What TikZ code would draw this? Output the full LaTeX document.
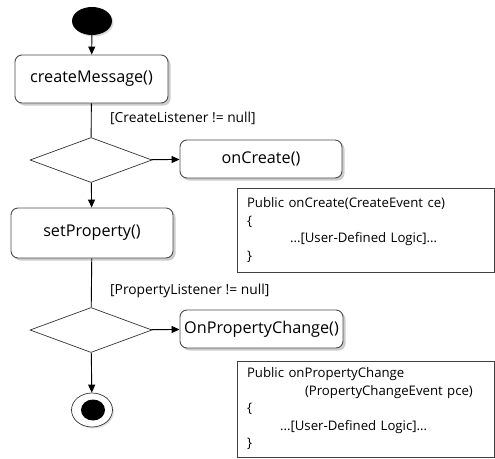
\documentclass[tikz,border=0pt]{standalone}
\usepackage{fontspec}
\setmainfont{Open Sans}
\usetikzlibrary{shapes.geometric,arrows.meta,shadows}
\begin{document}
\begin{tikzpicture}[x=1pt,y=-1pt,
  act/.style={draw=black!70, rounded corners=7pt, fill=white, line width=0.9pt,
    inner sep=0pt, font=\fontsize{16.2}{19}\selectfont,
    drop shadow={shadow xshift=2.5pt, shadow yshift=-2.5pt, fill=black!40}},
  choice/.style={diamond, draw=black!80, fill=white, line width=0.7pt,
    minimum width=122pt, minimum height=45pt, inner sep=0pt},
  guard/.style={anchor=west, inner sep=0pt, font=\fontsize{13.8}{16}\selectfont},
  codebox/.style={draw=black!75, line width=0.8pt, fill=white, align=left,
    inner xsep=10pt, inner ysep=0pt, font=\fontsize{13.2}{17.5}\selectfont},
  flow/.style={draw=black, line width=0.9pt},
  flowarrow/.style={flow, -{Triangle[length=8pt,width=7pt]}},
]
\useasboundingbox (0,0) rectangle (495,458);

% initial node
\node (start) [ellipse, fill=black, minimum width=40pt, minimum height=28pt, inner sep=0pt,
  drop shadow={shadow xshift=1.5pt, shadow yshift=-1.5pt, fill=black!30}] at (92,21) {};

% activities
\node (cm) [act, minimum width=153pt, minimum height=48pt] at (91.5,79) {createMessage()};
\node (d1) [choice] at (91,160) {};
\node (oc) [act, minimum width=162pt, minimum height=38pt] at (261,159) {onCreate()};
\node (sp) [act, minimum width=162pt, minimum height=50pt] at (92,233) {setProperty()};
\node (d2) [choice] at (91,330) {};
\node (opc) [act, minimum width=163pt, minimum height=38pt] at (261.5,329) {OnPropertyChange()};

% final node
\node (endo) [ellipse, draw=black!80, line width=0.7pt, fill=white, minimum width=41pt,
  minimum height=34pt, inner sep=0pt,
  drop shadow={shadow xshift=1.5pt, shadow yshift=-1.5pt, fill=black!25}] at (92,410) {};
\node (endi) [ellipse, fill=black, minimum width=24pt, minimum height=21pt, inner sep=0pt] at (93,410) {};

% guards
\node (g1) [guard] at (110,118) {[CreateListener != null]};
\node (g2) [guard] at (110,291) {[PropertyListener != null]};

% listener bodies
\node (code1) [codebox, minimum width=257pt, minimum height=84pt, text width=237pt] at (365.5,230)
  {Public onCreate(CreateEvent ce)\\
   \{\\
   \hspace*{43pt}...[User-Defined Logic]...\\
   \}};
\node (code2) [codebox, minimum width=257pt, minimum height=96pt, text width=237pt] at (365.5,409)
  {Public onPropertyChange\\
   \hspace*{58pt}(PropertyChangeEvent pce)\\
   \{\\
   \hspace*{33pt}...[User-Defined Logic]...\\
   \}};

% control flow
\draw [flowarrow] (start) -- (cm);
\draw [flow] (cm) -- (d1);
\draw [flowarrow] (d1) -- (oc);
\draw [flowarrow] (d1) -- (sp);
\draw [flow] (sp) -- (d2);
\draw [flowarrow] (d2) -- (opc);
\draw [flowarrow] (d2) -- (endo);
\end{tikzpicture}
\end{document}
